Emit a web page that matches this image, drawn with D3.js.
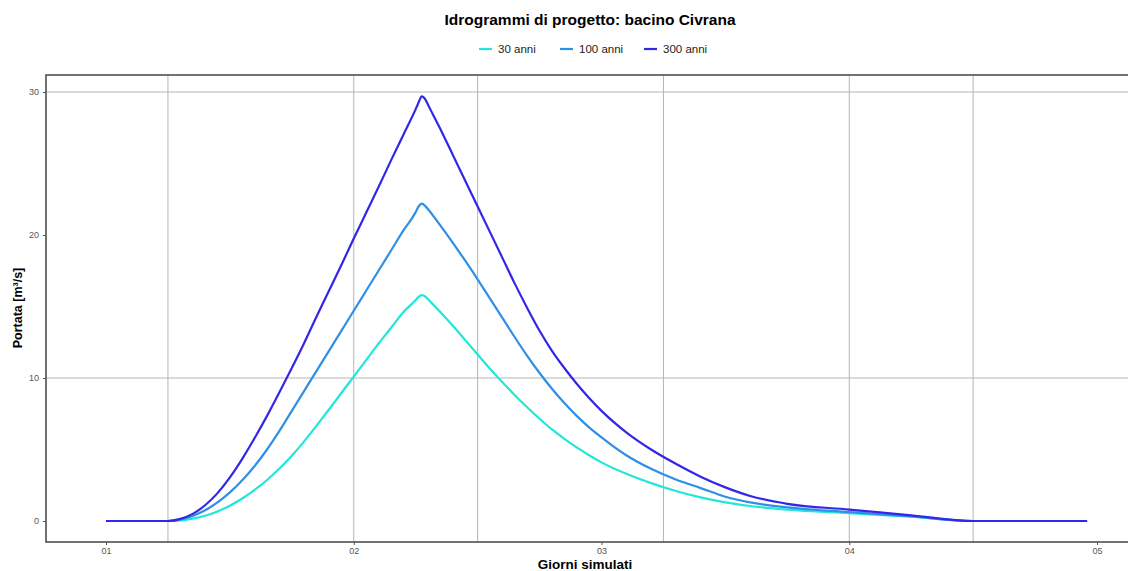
<!DOCTYPE html>
<meta charset="utf-8">
<style>
body { margin: 0; background: #fff; }
text { font-family: "Liberation Sans", Arial, sans-serif; }
.tick text { font-size: 9px; fill: #555; }
</style>
<body>
<script src="https://d3js.org/d3.v7.min.js"></script>
<script>

// days simulated
var days = [1.0, 1.25, 1.30, 1.35, 1.40, 1.45, 1.50, 1.55, 1.60, 1.65, 1.70, 1.75, 1.80, 1.85, 1.90, 1.95,
            2.00, 2.05, 2.10, 2.15, 2.20, 2.25, 2.26, 2.275, 2.29,
            2.30, 2.35, 2.40, 2.45, 2.50, 2.55, 2.60, 2.65, 2.70, 2.75, 2.80, 2.85, 2.90, 2.95, 3.00,
            3.10, 3.20, 3.30, 3.40, 3.50, 3.60, 3.75, 4.00, 4.25, 4.50, 4.96];

var q30  = [0, 0, 0.05, 0.17, 0.37, 0.67, 1.07, 1.57, 2.17, 2.87, 3.67, 4.57, 5.57, 6.67, 7.8, 8.95,
            10.1, 11.25, 12.4, 13.5, 14.6, 15.45, 15.65, 15.8, 15.68,
            15.5, 14.6, 13.65, 12.65, 11.65, 10.65, 9.7, 8.8, 7.95, 7.15, 6.4, 5.75, 5.15, 4.6, 4.1,
            3.3, 2.65, 2.1, 1.65, 1.3, 1.05, 0.8, 0.55, 0.3, 0, 0];
var q100 = [0, 0, 0.1, 0.35, 0.75, 1.3, 2.0, 2.85, 3.85, 5.0, 6.3, 7.7, 9.1, 10.5, 11.9, 13.3,
            14.7, 16.1, 17.5, 18.9, 20.3, 21.6, 21.95, 22.2, 22.0,
            21.8, 20.65, 19.45, 18.2, 16.9, 15.55, 14.2, 12.85, 11.55, 10.35, 9.25, 8.25, 7.35, 6.55, 5.85,
            4.6, 3.65, 2.9, 2.3, 1.7, 1.3, 0.95, 0.62, 0.32, 0, 0];
var q300 = [0, 0, 0.15, 0.5, 1.1, 1.95, 3.05, 4.35, 5.8, 7.35, 9.0, 10.7, 12.45, 14.3, 16.1, 17.9,
            19.75, 21.55, 23.35, 25.2, 27.0, 28.8, 29.2, 29.7, 29.45,
            29.1, 27.4, 25.6, 23.8, 22.0, 20.2, 18.4, 16.6, 14.9, 13.3, 11.9, 10.7, 9.6, 8.6, 7.7,
            6.2, 5.0, 4.0, 3.1, 2.35, 1.75, 1.2, 0.8, 0.4, 0, 0];

var seriesNames = ["30 anni", "100 anni", "300 anni"];
var seriesColors = ["#22e6da", "#2f8fe6", "#3326e6"];
var xTicks = [1, 2, 3, 4, 5];
var xTickLabels = ["01", "02", "03", "04", "05"];
var yTicks = [0, 10, 20, 30];
var xGrid = [1.25, 2, 2.5, 3.25, 4, 4.5];
var yGrid = [10, 30];

var width = 1128, height = 571;
var panel = {left: 46, top: 75, right: 1140, bottom: 542};

var x = d3.scaleLinear().domain([1, 5]).range([106, 1097]);
var y = d3.scaleLinear().domain([0, 30]).range([521, 92]);

var svg = d3.select("body").append("svg")
    .attr("width", width)
    .attr("height", height);

svg.append("text")
    .attr("x", 590).attr("y", 25)
    .attr("text-anchor", "middle")
    .style("font-size", "15.5px").style("font-weight", "bold")
    .text("Idrogrammi di progetto: bacino Civrana");

// grid
svg.selectAll(".vgrid").data(xGrid).enter().append("line")
    .attr("x1", d => x(d)).attr("x2", d => x(d))
    .attr("y1", panel.top).attr("y2", panel.bottom)
    .attr("stroke", "#b5b5b5").attr("stroke-width", 1);
svg.selectAll(".hgrid").data(yGrid).enter().append("line")
    .attr("x1", panel.left).attr("x2", panel.right)
    .attr("y1", d => y(d)).attr("y2", d => y(d))
    .attr("stroke", "#b5b5b5").attr("stroke-width", 1);

// panel border
svg.append("rect")
    .attr("x", panel.left).attr("y", panel.top)
    .attr("width", panel.right - panel.left).attr("height", panel.bottom - panel.top)
    .attr("fill", "none").attr("stroke", "#444").attr("stroke-width", 1.5);

// axes
svg.append("g")
    .attr("class", "tick")
    .attr("transform", "translate(0," + panel.bottom + ")")
    .call(d3.axisBottom(x).tickValues(xTicks).tickFormat((d, i) => xTickLabels[i]).tickSize(3).tickPadding(3))
    .call(g => g.select(".domain").remove())
    .call(g => g.selectAll("line").attr("stroke", "#555"));

svg.append("g")
    .attr("class", "tick")
    .attr("transform", "translate(" + panel.left + ",0)")
    .call(d3.axisLeft(y).tickValues(yTicks).tickSize(3).tickPadding(4))
    .call(g => g.select(".domain").remove())
    .call(g => g.selectAll("line").attr("stroke", "#555"));

svg.append("text")
    .attr("x", 585).attr("y", 569)
    .attr("text-anchor", "middle")
    .style("font-size", "13.5px").style("font-weight", "bold")
    .text("Giorni simulati");

svg.append("text")
    .attr("transform", "translate(22,308) rotate(-90)")
    .attr("text-anchor", "middle")
    .style("font-size", "12.5px").style("font-weight", "bold")
    .text("Portata [m³/s]");

// lines
var series = [q30, q100, q300];
var line = d3.line()
    .x((d, i) => x(days[i]))
    .y(d => y(d))
    .curve(d3.curveMonotoneX);

svg.selectAll(".series").data(series).enter().append("path")
    .attr("d", line)
    .attr("fill", "none")
    .attr("stroke", (d, i) => seriesColors[i])
    .attr("stroke-width", 2.2);

// legend
var legendX = [479, 560, 644];
var lg = svg.selectAll(".legend").data(seriesNames).enter().append("g")
    .attr("transform", (d, i) => "translate(" + legendX[i] + ",49)");
lg.append("line")
    .attr("x1", 0).attr("x2", 13)
    .attr("stroke", (d, i) => seriesColors[i]).attr("stroke-width", 2.2);
lg.append("text")
    .attr("x", 19).attr("y", 4)
    .style("font-size", "11.5px").style("fill", "#222")
    .text(d => d);

</script>
